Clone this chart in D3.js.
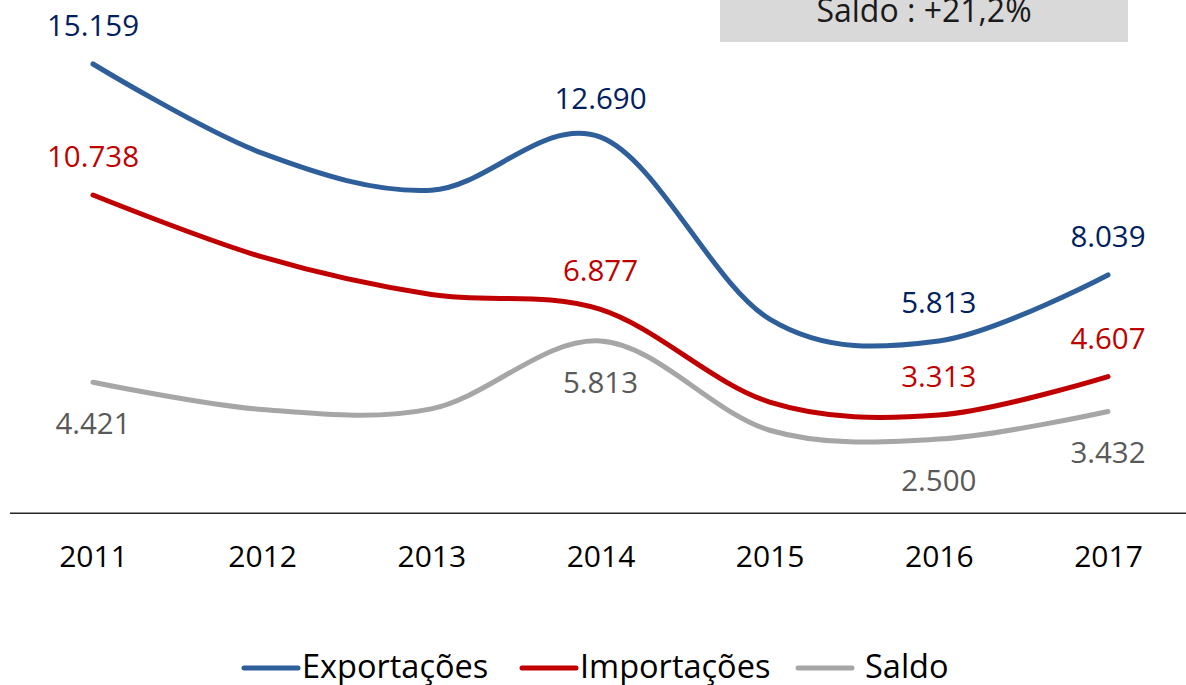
<!DOCTYPE html>
<html>
<head>
<meta charset="utf-8">
<script src="https://cdn.jsdelivr.net/npm/d3@7"></script>
<style>
  body { margin: 0; background: #fff; }
  svg { display: block; font-family: "Open Sans", sans-serif; }
</style>
</head>
<body>
<div id="chart"></div>
<script>
const years = [2011, 2012, 2013, 2014, 2015, 2016, 2017];
const exportacoes = [15159, 12150, 10900, 12690, 6550, 5813, 8039];
const importacoes = [10738, 8650, 7380, 6877, 3750, 3313, 4607];
const saldo = [4421, 3500, 3520, 5813, 2800, 2500, 3432];
const seriesNames = ["Exportações", "Importações", "Saldo"];
const labelledYears = [2011, 2014, 2016, 2017];
const boxText = "Saldo : +21,2%";

const lineColors = ["#2E5F9B", "#C00000", "#A6A6A6"];
const labelColors = ["#002060", "#C00000", "#595959"];

const width = 1186, height = 685;

const svg = d3.select("#chart").append("svg")
  .attr("width", width)
  .attr("height", height);

// scales
const x = d3.scalePoint().domain(years).range([93, 1108]);
const y = d3.scaleLinear().domain([0, 18000]).range([513.2, -20.2]);

// box with the saldo percentage (cut at the top like the source)
svg.append("rect")
  .attr("x", 720).attr("y", -20)
  .attr("width", 408).attr("height", 62)
  .attr("fill", "#D9D9D9");
svg.append("text")
  .attr("x", 924).attr("y", 22)
  .attr("text-anchor", "middle")
  .attr("font-size", "32px")
  .attr("fill", "#1a1a1a")
  .text(boxText);

// x axis
const xAxis = svg.append("g")
  .attr("transform", "translate(0," + y(0) + ")")
  .call(d3.axisBottom(x).tickSize(0).tickPadding(33).tickFormat(d3.format("d")));
xAxis.select(".domain").remove();
xAxis.selectAll("text")
  .attr("font-size", "30px")
  .attr("font-family", "Open Sans, sans-serif")
  .attr("fill", "#000");
svg.append("line")
  .attr("x1", 10).attr("x2", width)
  .attr("y1", y(0)).attr("y2", y(0))
  .attr("stroke", "#262626")
  .attr("stroke-width", 1.5);

const line = d3.line()
  .x((d, i) => x(years[i]))
  .y(d => y(d))
  .curve(d3.curveCardinal.tension(0));

const allSeries = [exportacoes, importacoes, saldo];

// draw lines back to front
for (let i = allSeries.length - 1; i >= 0; --i) {
  svg.append("path")
    .attr("d", line(allSeries[i]))
    .attr("fill", "none")
    .attr("stroke", lineColors[i])
    .attr("stroke-width", 5)
    .attr("stroke-linecap", "round");
}

// data labels: exports and imports above, saldo below
const fmt = d3.formatLocale({ decimal: ",", thousands: ".", grouping: [3], currency: ["", ""] }).format(",d");
allSeries.forEach((vals, i) => {
  const pts = years.map((yr, j) => ({ yr: yr, v: vals[j] }))
    .filter(d => labelledYears.includes(d.yr));
  svg.selectAll(".lbl-" + i)
    .data(pts)
    .enter().append("text")
    .attr("class", "lbl-" + i)
    .attr("x", d => x(d.yr))
    .attr("y", d => i === 2 ? y(d.v) + 52 : y(d.v) - 28)
    .attr("text-anchor", "middle")
    .attr("font-size", "29.5px")
    .attr("fill", labelColors[i])
    .text(d => fmt(d.v));
});

// legend
const legendX = [242, 520, 796];
seriesNames.forEach((name, i) => {
  const g = svg.append("g").attr("transform", "translate(" + legendX[i] + ",668)");
  g.append("line")
    .attr("x1", 2).attr("x2", 56)
    .attr("stroke", lineColors[i])
    .attr("stroke-width", 5)
    .attr("stroke-linecap", "round");
  g.append("text")
    .attr("x", i === 2 ? 69 : 60)
    .attr("y", 10)
    .attr("font-size", "32.5px")
    .attr("fill", "#000")
    .text(name);
});
</script>
</body>
</html>
